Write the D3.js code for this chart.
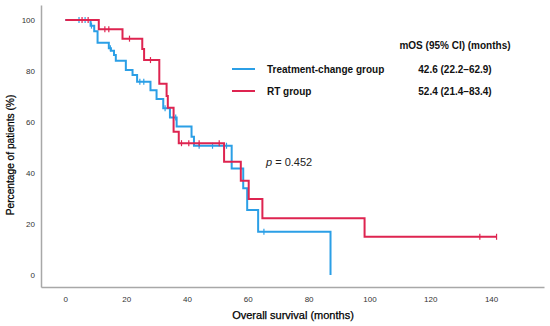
<!DOCTYPE html>
<html lang="en">
<head>
<meta charset="UTF-8">
<script src="https://d3js.org/d3.v7.min.js"></script>
<title>Overall survival</title>
<style>
  body { margin: 0; background: #fff; }
  svg { font-family: "Liberation Sans", Arial, sans-serif; }
</style>
</head>
<body>
<script>
// Kaplan-Meier steps (months, % surviving after the drop)
const tcTimes = [0, 8.3, 9.5, 10.6, 14.3, 15.0, 16.0, 16.6, 19.9, 22.1, 23.6, 28.0, 30.0, 32.2, 34.4, 36.6, 41.5, 42.3, 54.7, 58.5, 59.8, 63.4, 87.2];
const tcSurv  = [100, 97.8, 95.6, 91.1, 88.9, 88.0, 86.3, 84.0, 80.4, 78.4, 75.8, 72.5, 69.0, 65.4, 61.8, 58.2, 54.2, 50.7, 41.8, 34.0, 25.5, 17.0, 0];
const tcCensor = [4.5, 6.5, 8.6, 14.8, 24.5, 25.8, 32.8, 36.3, 44.0, 48.4, 53.0, 65.3];
const tcEnd = 87.2;

const rtTimes = [0, 11.0, 18.8, 25.3, 25.9, 30.9, 33.3, 33.7, 35.6, 37.3, 52.2, 57.7, 60.3, 64.8, 98.4];
const rtSurv  = [100, 96.4, 92.7, 88.6, 84.3, 75.0, 70.2, 65.6, 56.2, 51.7, 44.4, 37.0, 29.8, 22.3, 15.0];
const rtCensor = [5.5, 7.5, 13.0, 14.3, 21.1, 28.0, 38.2, 40.6, 44.0, 50.6, 136.3, 141.8];
const rtEnd = 141.8;

const groups = ['Treatment-change group', 'RT group'];
const mosLabels = ['42.6 (22.2\u201362.9)', '52.4 (21.4\u201383.4)'];
const xTicks = [0, 20, 40, 60, 80, 100, 120, 140];
const yTicks = [0, 20, 40, 60, 80, 100];

const W = 550, H = 326;
const blue = '#2b9fe6', red = '#de2450';

const svg = d3.select('body').append('svg')
    .attr('width', W)
    .attr('height', H);

const x = d3.scaleLinear().domain([-8, 157.4]).range([41, 544]);
const y = d3.scaleLinear().domain([-4.7, 105.9]).range([287, 5]);

// axes
const xAxis = svg.append('g')
    .attr('transform', `translate(0,${y(-4.7)})`)
    .call(d3.axisBottom(x).tickValues(xTicks).tickSize(0).tickPadding(9));
const yAxis = svg.append('g')
    .attr('transform', `translate(${x(-8)},0)`)
    .call(d3.axisLeft(y).tickValues(yTicks).tickSize(0).tickPadding(6));

[xAxis, yAxis].forEach(a => {
    a.select('.domain').attr('stroke', '#a8a8a8').attr('stroke-width', 1.5);
    a.selectAll('text').attr('fill', '#333').style('font-size', '8px')
        .style('font-family', '"Liberation Sans", Arial, sans-serif');
});

svg.append('text')
    .attr('x', 293).attr('y', 319)
    .attr('text-anchor', 'middle')
    .attr('font-size', 11)
    .attr('fill', '#000')
    .attr('stroke', '#000').attr('stroke-width', 0.25)
    .text('Overall survival (months)');

svg.append('text')
    .attr('transform', 'translate(14,155) rotate(-90)')
    .attr('text-anchor', 'middle')
    .attr('font-size', 10.2)
    .attr('fill', '#000')
    .attr('stroke', '#000').attr('stroke-width', 0.25)
    .text('Percentage of patients (%)');

// survival curves
const line = d3.line()
    .x(d => x(d[0]))
    .y(d => y(d[1]))
    .curve(d3.curveStepAfter);

function survAt(times, surv, t) {
    let s = surv[0];
    for (let i = 0; i < times.length; i++) if (times[i] <= t) s = surv[i];
    return s;
}

function drawCurve(times, surv, end, censor, color) {
    const pts = times.map((t, i) => [t, surv[i]]);
    if (end > times[times.length - 1]) pts.push([end, surv[surv.length - 1]]);
    svg.append('path')
        .datum(pts)
        .attr('d', line)
        .attr('fill', 'none')
        .attr('stroke', color)
        .attr('stroke-width', 2);
    svg.append('g').selectAll('line')
        .data(censor)
        .enter()
        .append('line')
        .attr('x1', d => x(d)).attr('x2', d => x(d))
        .attr('y1', d => y(survAt(times, surv, d)) - 3)
        .attr('y2', d => y(survAt(times, surv, d)) + 3)
        .attr('stroke', color)
        .attr('stroke-width', 1.2);
}

drawCurve(tcTimes, tcSurv, tcEnd, tcCensor, blue);
drawCurve(rtTimes, rtSurv, rtEnd, rtCensor, red);

// legend and median OS table
const colors = [blue, red];
const legY = [69, 91];
groups.forEach((g, i) => {
    svg.append('line')
        .attr('x1', 232).attr('x2', 255)
        .attr('y1', legY[i]).attr('y2', legY[i])
        .attr('stroke', colors[i]).attr('stroke-width', 2);
    svg.append('text')
        .attr('x', 267).attr('y', legY[i] + 4)
        .attr('font-size', 10).attr('font-weight', 'bold')
        .attr('fill', '#111')
        .text(g);
    svg.append('text')
        .attr('x', 455).attr('y', legY[i] + 3.5)
        .attr('text-anchor', 'middle')
        .attr('font-size', 10).attr('font-weight', 'bold')
        .attr('fill', '#111')
        .text(mosLabels[i]);
});

svg.append('text')
    .attr('x', 455).attr('y', 49)
    .attr('text-anchor', 'middle')
    .attr('font-size', 10).attr('font-weight', 'bold')
    .attr('fill', '#111')
    .text('mOS (95% CI) (months)');

const pText = svg.append('text')
    .attr('x', 266).attr('y', 166)
    .attr('font-size', 11)
    .attr('fill', '#222');
pText.append('tspan').attr('font-style', 'italic').text('p');
pText.append('tspan').text(' = 0.452');
</script>
</body>
</html>
